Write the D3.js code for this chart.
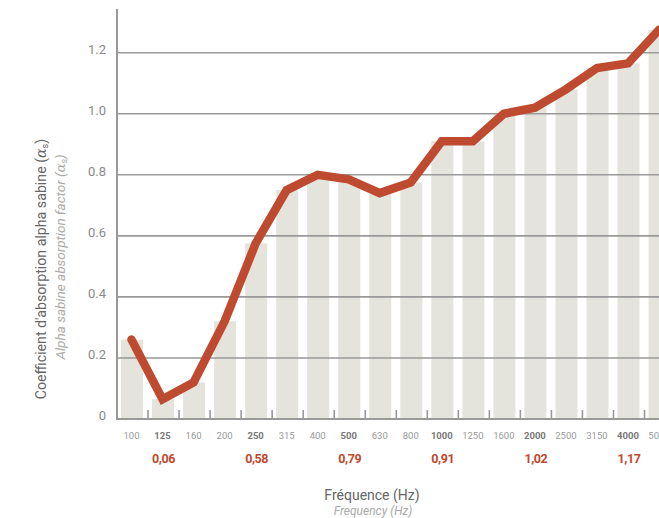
<!DOCTYPE html>
<html><head><meta charset="utf-8">
<script src="https://cdn.jsdelivr.net/npm/d3@7"></script>
<style>
html,body{margin:0;padding:0;background:#fff;overflow:hidden}
svg{display:block;font-family:Roboto,"Noto Sans",sans-serif}
</style></head>
<body>
<svg id="c" width="659" height="518"></svg>
<script>
const freqs = ["100","125","160","200","250","315","400","500","630","800","1000","1250","1600","2000","2500","3150","4000","5000"];
const alpha = [0.26,0.065,0.12,0.32,0.575,0.75,0.80,0.785,0.74,0.775,0.91,0.91,1.0,1.02,1.08,1.15,1.165,1.275];
const boldFreqs = ["125","250","500","1000","2000","4000"];
const valueLabels = ["0,06","0,58","0,79","0,91","1,02","1,17"];
const yTicks = [0,0.2,0.4,0.6,0.8,1.0,1.2];
const yTickLabels = ["0","0.2","0.4","0.6","0.8","1.0","1.2"];

const svg = d3.select("#c");
const x0 = 117, step = 31.03;
const x = d3.scaleBand().domain(freqs).range([x0, x0 + step*freqs.length]).padding(0);
const y = d3.scaleLinear().domain([0,1.2]).range([419,52.7]);

// bars
svg.append("g").selectAll("rect").data(freqs).join("rect")
  .attr("x", d => x(d) + x.bandwidth()*0.13)
  .attr("width", x.bandwidth()*0.71)
  .attr("y", (d,i) => y(alpha[i]))
  .attr("height", (d,i) => y(0) - y(alpha[i]))
  .attr("fill", "#e4e3dc");

// gridlines
svg.append("g").selectAll("line").data(yTicks.slice(1)).join("line")
  .attr("x1", x0).attr("x2", 659)
  .attr("y1", d => y(d)).attr("y2", d => y(d))
  .attr("stroke", "#999").attr("stroke-width", 1.6);

// baseline and axis
svg.append("line").attr("x1", x0).attr("x2", 659).attr("y1", y(0)).attr("y2", y(0))
  .attr("stroke", "#999").attr("stroke-width", 2);
svg.append("line").attr("x1", x0).attr("x2", x0).attr("y1", 9).attr("y2", y(0)+1)
  .attr("stroke", "#999").attr("stroke-width", 2);

// ticks between bands
svg.append("g").selectAll("line").data(freqs.slice(1)).join("line")
  .attr("x1", d => x(d)).attr("x2", d => x(d))
  .attr("y1", y(0) - 9).attr("y2", y(0))
  .attr("stroke", "#999").attr("stroke-width", 1.6);

// y tick labels
svg.append("g").selectAll("text").data(yTicks).join("text")
  .attr("x", 106).attr("y", d => y(d) + 1)
  .attr("text-anchor", "end").attr("font-size", 13).attr("fill", "#8a8a8a")
  .text((d,i) => yTickLabels[i]);

// x tick labels
svg.append("g").selectAll("text").data(freqs).join("text")
  .attr("x", d => x(d) + x.bandwidth()/2 - 1)
  .attr("y", 439)
  .attr("text-anchor", "middle").attr("font-size", 9.5)
  .attr("font-weight", d => boldFreqs.includes(d) ? "bold" : "normal")
  .attr("fill", d => boldFreqs.includes(d) ? "#777" : "#999")
  .text(d => d);

// red value labels
svg.append("g").selectAll("text").data(boldFreqs).join("text")
  .attr("x", d => x(d) + x.bandwidth()/2)
  .attr("y", 463)
  .attr("text-anchor", "middle").attr("font-size", 12.5).attr("font-weight", "bold")
  .attr("fill", "#c0492f").attr("letter-spacing", "-0.4")
  .text((d,i) => valueLabels[i]);

// line
const line = d3.line().x((d,i) => x(freqs[i]) + x.bandwidth()/2 - 1).y(d => y(d));
svg.append("path").datum(alpha).attr("d", line)
  .attr("fill", "none").attr("stroke", "#be4a30").attr("stroke-width", 8.5)
  .attr("stroke-linejoin", "miter").attr("stroke-linecap", "round");

// axis titles
svg.append("text").attr("x", 372).attr("y", 500).attr("text-anchor", "middle")
  .attr("font-size", 14).attr("fill", "#666").text("Fréquence (Hz)");
svg.append("text").attr("x", 373).attr("y", 515).attr("text-anchor", "middle")
  .attr("font-size", 12).attr("font-style", "italic").attr("fill", "#aaa").text("Frequency (Hz)");

const t1 = svg.append("text").attr("transform", "translate(46,269) rotate(-90)")
  .attr("text-anchor", "middle").attr("font-size", 14.2).attr("fill", "#666");
t1.append("tspan").text("Coefficient d'absorption alpha sabine  (");
t1.append("tspan").attr("font-style", "italic").attr("font-family", "DejaVu Serif").text("α");
t1.append("tspan").attr("font-size", 9).attr("dy", 2).text("s");
t1.append("tspan").attr("dy", -2).text(")");

const t2 = svg.append("text").attr("transform", "translate(65,257) rotate(-90)")
  .attr("text-anchor", "middle").attr("font-size", 13.5).attr("font-style", "italic").attr("fill", "#aaa");
t2.append("tspan").text("Alpha sabine absorption factor (");
t2.append("tspan").attr("font-family", "DejaVu Serif").text("α");
t2.append("tspan").attr("font-size", 9).attr("dy", 2).text("s");
t2.append("tspan").attr("dy", -2).text(")");
</script>
</body></html>
